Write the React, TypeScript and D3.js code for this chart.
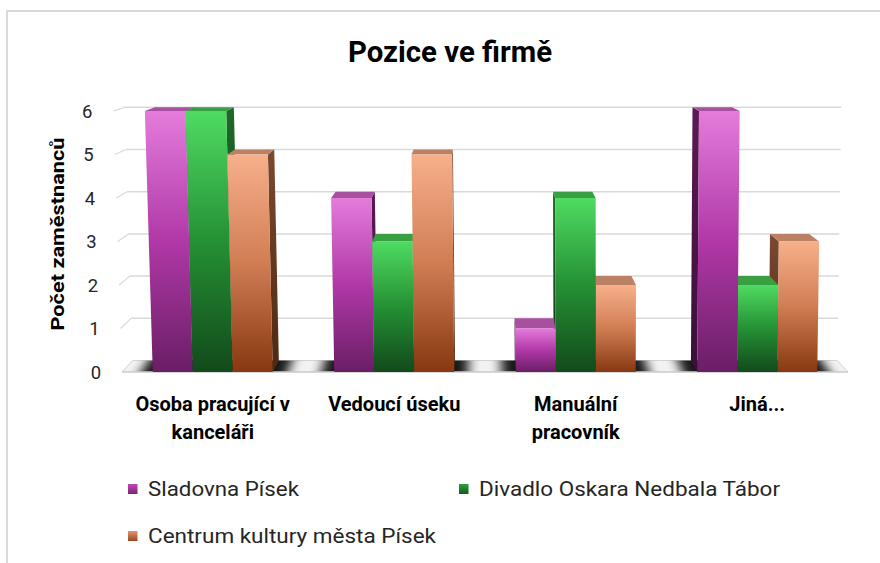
import React from "react";
import * as d3 from "d3";

const categories: string[][] = [
  ["Osoba pracující v", "kanceláři"],
  ["Vedoucí úseku"],
  ["Manuální", "pracovník"],
  ["Jiná..."],
];
const seriesNames = ["Sladovna Písek", "Divadlo Oskara Nedbala Tábor", "Centrum kultury města Písek"];
const sladovna = [6, 4, 1, 6];
const divadlo = [6, 3, 4, 2];
const centrum = [5, 5, 2, 3];
const yTicks = [0, 1, 2, 3, 4, 5, 6];
const chartTitle = "Pozice ve firmě";
const yTitle = "Počet zaměstnanců";

const series = [sladovna, divadlo, centrum];

const W = 880;
const H = 563;
const X0 = 122;
const X1 = 848;
const YB = 372;
const YT = 111;

// perspective
const VPX = 484;
const VPY = -11;
const DEPTH = 0.03;
const LEANX = 600;
const LEAN = 0.0177 / 261;

function P(x: number, y: number, z: number): [number, number] {
  const s = 1 - DEPTH * z;
  const x1 = VPX + (x - VPX) * s;
  const y1 = VPY + (y - VPY) * s;
  const f = 1 + LEAN * (YB - y1);
  return [LEANX + (x1 - LEANX) * f, y1];
}
const poly = (pts: [number, number][]) => pts.map((p) => p[0].toFixed(2) + "," + p[1].toFixed(2)).join(" ");

const palette = [
  { front: ["#e47cdb", "#b038a7", "#6a1e65"], top: "#a84f9f", side: ["#5a1a55", "#3c0f38"], legend: ["#c04ab8", "#7a2475"] },
  { front: ["#4fdb62", "#259034", "#124a1b"], top: "#38a043", side: ["#1f6a28", "#0e3514"], legend: ["#2fa03d", "#125a1c"] },
  { front: ["#f7b08a", "#d07d54", "#873810"], top: "#ba8165", side: ["#7a4a30", "#4e2812"], legend: ["#e49470", "#9a4a22"] },
];

export default function App() {
  const idx = categories.map((_, i) => i);
  const x = d3.scaleBand<number>().domain(idx).range([X0, X1]).paddingInner(0.339).paddingOuter(0.1695);
  const x1 = d3.scaleBand<number>().domain([0, 1, 2]).range([0, x.bandwidth()]);
  const y = d3.scaleLinear().domain([0, 6]).range([YB, YT]);

  type Bar = { s: number; c: number; v: number; xl: number; xr: number; cx: number };
  const bars: Bar[] = [];
  series.forEach((vals, s) =>
    vals.forEach((v, c) => {
      const xl = (x(c) as number) + (x1(s) as number);
      const xr = xl + x1.bandwidth();
      bars.push({ s, c, v, xl, xr, cx: (xl + xr) / 2 });
    })
  );
  bars.sort((a, b) => Math.abs(b.cx - VPX) - Math.abs(a.cx - VPX));

  const floor = poly([P(X0, YB, 0), P(X1, YB, 0), P(X1, YB, 1), P(X0, YB, 1)]);
  const legendLen = [151, 301, 288];

  return (
    <svg width={W} height={H} style={{ position: "absolute", left: 0, top: 0, background: "#fff" }}
      fontFamily="Roboto, 'Noto Sans', sans-serif">
      <defs>
        {palette.map((p, i) => (
          <linearGradient key={"f" + i} id={"front" + i} x1="0" y1="0" x2="0" y2="1">
            <stop offset="0" stopColor={p.front[0]} />
            <stop offset="0.5" stopColor={p.front[1]} />
            <stop offset="1" stopColor={p.front[2]} />
          </linearGradient>
        ))}
        {palette.map((p, i) => (
          <linearGradient key={"s" + i} id={"side" + i} x1="0" y1="0" x2="0" y2="1">
            <stop offset="0" stopColor={p.side[0]} />
            <stop offset="1" stopColor={p.side[1]} />
          </linearGradient>
        ))}
        {palette.map((p, i) => (
          <linearGradient key={"l" + i} id={"leg" + i} x1="0" y1="0" x2="0" y2="1">
            <stop offset="0" stopColor={p.legend[0]} />
            <stop offset="1" stopColor={p.legend[1]} />
          </linearGradient>
        ))}
        <filter id="blur" x="-30%" y="-300%" width="160%" height="700%">
          <feGaussianBlur stdDeviation="6 1.5" />
        </filter>
        <clipPath id="floorClip">
          <polygon points={floor} />
        </clipPath>
      </defs>

      {/* frame */}
      <rect x={7} y={11} width={W} height={H} fill="none" stroke="#d9d9d9" strokeWidth={2} />

      {/* title */}
      <text x={450} y={62} textAnchor="middle" fontSize={29} fontWeight="bold" fill="#000"
        textLength={204} lengthAdjust="spacingAndGlyphs">{chartTitle}</text>

      {/* back wall gridlines */}
      {yTicks.filter((t) => t > 0).map((t) => {
        const a = P(X0, y(t), 1);
        const b = P(X1, y(t), 1);
        const f = P(X0, y(t), 0);
        return (
          <g key={"g" + t}>
            <line x1={a[0]} y1={a[1]} x2={b[0]} y2={b[1]} stroke="#d9d9d9" strokeWidth={1.5} />
            <line x1={f[0]} y1={f[1]} x2={a[0]} y2={a[1]} stroke="#d9d9d9" strokeWidth={1.2} />
          </g>
        );
      })}

      {/* floor */}
      <polygon points={floor} fill="#f2f2f2" stroke="#d4d4d4" strokeWidth={1} />
      <g clipPath="url(#floorClip)">
        {idx.map((c) => {
          const l = (x(c) as number) - 14;
          const r = (x(c) as number) + x.bandwidth() + 14;
          return (
            <polygon key={"sh" + c} filter="url(#blur)" fill="#000" opacity={0.9}
              points={poly([P(l, YB + 3, 0), P(r, YB + 3, 0), P(r, YB - 2, 1.3), P(l, YB - 2, 1.3)])} />
          );
        })}
      </g>
      <line x1={P(X0, YB, 0)[0]} y1={YB} x2={P(X1, YB, 0)[0]} y2={YB} stroke="#d0d0d0" strokeWidth={1.5} />

      {/* bars */}
      {bars.map((b) => {
        const yt = y(b.v);
        const fTL = P(b.xl, yt, 0), fTR = P(b.xr, yt, 0), fBL = P(b.xl, YB, 0), fBR = P(b.xr, YB, 0);
        const bTL = P(b.xl, yt, 1), bTR = P(b.xr, yt, 1), bBL = P(b.xl, YB, 1), bBR = P(b.xr, YB, 1);
        const rightSide = b.cx < VPX;
        const side = rightSide ? [fTR, bTR, bBR, fBR] : [fTL, bTL, bBL, fBL];
        return (
          <g key={"b" + b.s + "-" + b.c}>
            <polygon points={poly(side as [number, number][])} fill={`url(#side${b.s})`} />
            <polygon points={poly([fTL, fTR, bTR, bTL])} fill={palette[b.s].top} />
            <polygon points={poly([fTL, fTR, fBR, fBL])} fill={`url(#front${b.s})`} />
          </g>
        );
      })}

      {/* y tick labels */}
      {yTicks.map((t) => {
        const p = P(X0 - 26, y(t), 0);
        return (
          <text key={"t" + t} x={p[0]} y={y(t) + 6.5} textAnchor="middle" fontSize={18.5} fill="#262626">{t}</text>
        );
      })}

      {/* y title */}
      <text transform={`translate(64,234) rotate(-90)`} textAnchor="middle" fontSize={19} fontWeight="bold"
        fill="#000" textLength={193} lengthAdjust="spacingAndGlyphs">{yTitle}</text>

      {/* category labels */}
      {categories.map((lines, c) => {
        const cx = (x(c) as number) + x.bandwidth() / 2;
        return (
          <text key={"c" + c} textAnchor="middle" fontSize={20} fontWeight="bold" fill="#000">
            {lines.map((ln, i) => (
              <tspan key={i} x={cx} y={411 + i * 28}>{ln}</tspan>
            ))}
          </text>
        );
      })}

      {/* legend */}
      {seriesNames.map((n, i) => {
        const lx = i === 1 ? 459 : 128;
        const ly = i === 2 ? 536 : 489;
        return (
          <g key={"lg" + i}>
            <rect x={lx} y={ly - 5} width={9.5} height={10} fill={`url(#leg${i})`} />
            <text x={lx + 20} y={ly + 7} fontSize={20.5} fill="#262626"
              textLength={legendLen[i]} lengthAdjust="spacingAndGlyphs">{n}</text>
          </g>
        );
      })}
    </svg>
  );
}
